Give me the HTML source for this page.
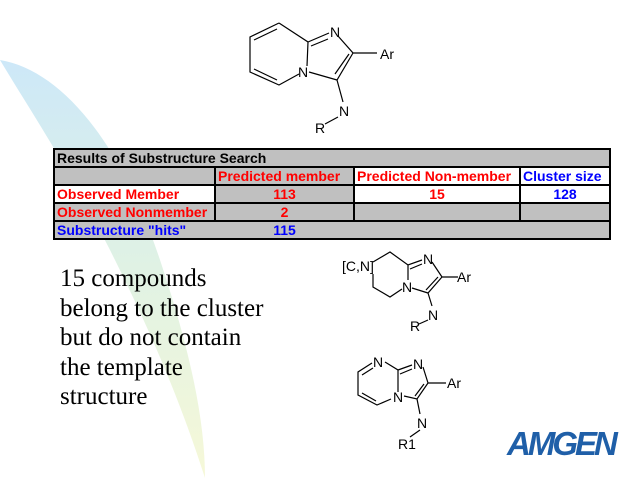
<!DOCTYPE html>
<html><head><meta charset="utf-8"><style>
body{margin:0;width:640px;height:480px;background:#fff;position:relative;overflow:hidden;font-family:"Liberation Sans",sans-serif}
svg{position:absolute;left:0;top:0}
table{position:absolute;left:53px;top:148px;width:556px;border-collapse:collapse;font-weight:bold;font-size:14px;table-layout:fixed}
td{border:2px solid #000;height:16px;padding:0 2px;line-height:16px;background:#c0c0c0;white-space:nowrap;overflow:hidden}
.r{color:#f00}.b{color:#00f}.w{background:#fff}.c{text-align:center}
.txt{position:absolute;left:60px;top:264px;font-family:"Liberation Serif",serif;font-size:25px;line-height:29.5px;color:#000}
.amgen{position:absolute;left:507px;top:425px;font:italic bold 33px "Liberation Sans",sans-serif;color:#1f5fa8;letter-spacing:-3px}
</style></head><body>
<svg width="640" height="480">
<defs><linearGradient id="g" x1="0" y1="0" x2="0" y2="1"><stop offset="0" stop-color="#cde8f8"/><stop offset="0.5" stop-color="#e0f2e4"/><stop offset="1" stop-color="#f6f8d8"/></linearGradient></defs>
<path d="M0,60 C60,70 120,140 160,260 C190,350 205,420 205,478 C180,400 150,330 110,250 C70,170 30,110 0,60Z" fill="url(#g)"/>
<g stroke="#000" stroke-width="1.2" fill="none">
<path d="M279,23 L250,37 L250,72 L279,85 L299,74 M307,66 L308,42 L279,23 M308,42 L329,33 M311,46 L328,39 M338,36 L353,53 L337,80 L309,72 M349,54 L335,74 M353,53 L377,53 M337,80 L343,102 M338,117 L325,124 M254,40 L277,29 M254,69 L277,80"/>
<path d="M373,262 L390,252 L408,265 L422,260 M410,269 L422,264 M432,262 L442,277 L428,293 L412,288 M438,277 L426,290 M408,265 L408,280 M402,289 L390,297 L373,287 L373,274 M442,277 L458,277 M428,293 L432,306 M428,320 L419,324"/>
<path d="M372,363 L358,372 L358,395 L377,405 L391,399 M398,392 L398,370 L385,362 M398,370 L412,365 M400,374 L412,369 M423,367 L428,383 L417,399 L404,396 M424,384 L415,396 M428,383 L446,383 M417,399 L420,414 M420,430 L410,437 M362,375 L373,368 M362,393 L376,401"/>
</g>
<g font-family="Liberation Sans,sans-serif" font-size="14" fill="#000">
<text x="330" y="37">N</text><text x="380" y="59">Ar</text><text x="298" y="77">N</text><text x="339" y="116">N</text><text x="315" y="133">R</text>
<text x="342" y="271">[C,N]</text><text x="423" y="264">N</text><text x="457" y="282">Ar</text><text x="402" y="292">N</text><text x="428" y="320">N</text><text x="410" y="331">R</text>
<text x="373" y="367">N</text><text x="413" y="369">N</text><text x="447" y="388">Ar</text><text x="393" y="402">N</text><text x="417" y="428">N</text><text x="398" y="449">R1</text>
</g>
</svg>
<table>
<colgroup><col style="width:161px"><col style="width:139px"><col style="width:166px"><col style="width:90px"></colgroup>
<tr><td colspan="4" style="color:#000">Results of Substructure Search</td></tr>
<tr><td></td><td class="r">Predicted member</td><td class="r w">Predicted Non-member</td><td class="b w">Cluster size</td></tr>
<tr><td class="r w">Observed Member</td><td class="r c">113</td><td class="r c w">15</td><td class="b c w">128</td></tr>
<tr><td class="r">Observed Nonmember</td><td class="r c">2</td><td></td><td></td></tr>
<tr><td class="b" style="border-right:none">Substructure "hits"</td><td class="b c" style="border-left:none;border-right:none">115</td><td style="border-left:none;border-right:none"></td><td style="border-left:none"></td></tr>
</table>
<div class="txt">15 compounds<br>belong to the cluster<br>but do not contain<br>the template<br>structure</div>
<div class="amgen">AMGEN</div>
</body></html>
